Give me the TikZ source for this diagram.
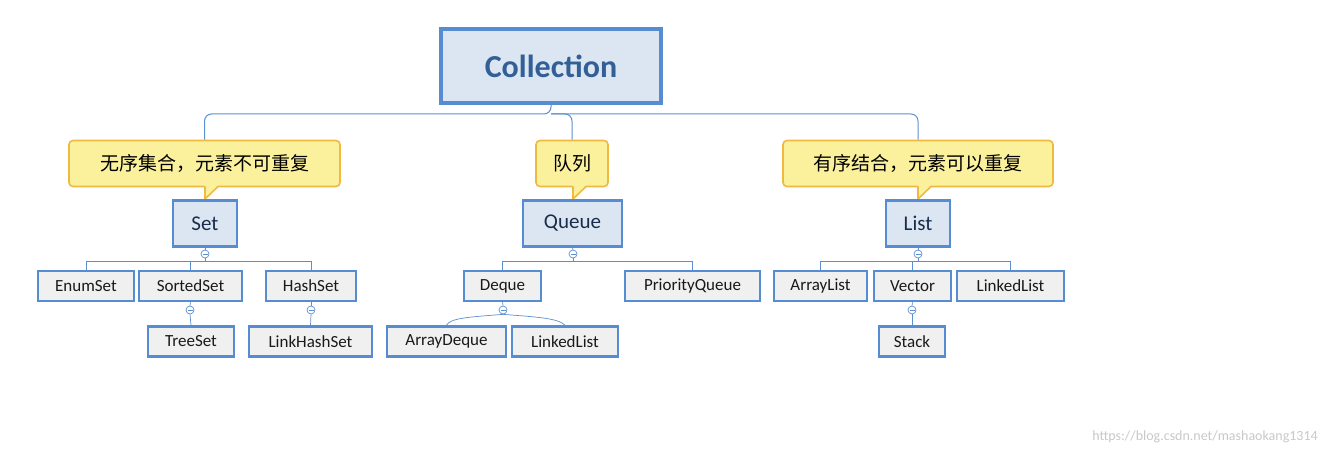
\documentclass[tikz,border=0pt]{standalone}
\usepackage{fontspec}
\setmainfont{Carlito}
\newfontfamily\cjk{Noto Sans CJK SC}
\definecolor{bd}{RGB}{86,140,210}
\definecolor{ln}{RGB}{91,143,208}
\definecolor{gf}{RGB}{240,240,240}
\definecolor{bf}{RGB}{220,230,242}
\definecolor{cb}{RGB}{240,185,66}
\definecolor{cf}{RGB}{251,240,156}
\definecolor{tt}{RGB}{50,95,150}
\definecolor{mt}{RGB}{25,45,75}
\definecolor{wm}{RGB}{200,200,200}
\begin{document}
\begin{tikzpicture}[x=1pt,y=-1pt,
  con/.style={draw=ln,line width=0.7pt},
  sm/.style={draw=bd,line width=2.6pt,fill=gf,minimum height=30,inner sep=0pt,font=\fontsize{17}{17}\selectfont,text=black!90},
  mid/.style={draw=bd,line width=2.2pt,fill=bf,minimum height=46,inner sep=0pt,font=\fontsize{21}{21}\selectfont,text=mt},
  call/.style={draw=cb,line width=1.6pt,fill=cf,rounded corners=4pt,minimum height=46,inner sep=0pt,font=\cjk\fontsize{19}{19}\selectfont},
  mc/.style={circle,draw=ln,line width=0.7pt,fill=white,minimum size=8,inner sep=0pt}]
\useasboundingbox (0,0) rectangle (1327,454);
\node[draw=bd,line width=4pt,fill=bf,minimum width=220,minimum height=74,inner sep=0pt,font=\bfseries\fontsize{32}{32}\selectfont,text=tt] (coll) at (551,66) {Collection};
\coordinate (j) at (551,114);
% callouts
\node[call,minimum width=271] (c1) at (204.5,163.5) {无序集合，元素不可重复};
\node[call,minimum width=72] (c2) at (572,163.5) {队列};
\node[call,minimum width=270] (c3) at (918,163.5) {有序结合，元素可以重复};
\foreach \x in {205,573,918}{
  \fill[cf] (\x-0.5,185) -- (\x+13,185) -- (\x,199) -- cycle;
  \draw[cb,line width=1.6pt] (\x+13,186.5) -- (\x,199) -- (\x,186.5);}
\draw[con,line width=1pt,rounded corners=7pt] (coll.south) -- (j) -| (c1.north);
\draw[con,line width=1pt,rounded corners=7pt] (j) -| (c2.north);
\draw[con,line width=1pt,rounded corners=7pt] (j) -| (c3.north);
% mids
\node[mid,minimum width=64] (set) at (205,223.5) {Set};
\node[mid,minimum width=99] (queue) at (572.5,223.5) {Queue};
\node[mid,minimum width=64] (list) at (918,223.5) {List};
% Set children
\node[sm,minimum width=96] (enum) at (86,286) {EnumSet};
\node[sm,minimum width=103] (sorted) at (190.5,286) {SortedSet};
\node[sm,minimum width=90] (hash) at (311,286) {HashSet};
\node[sm,minimum width=86] (tree) at (191,341.5) {TreeSet};
\node[sm,minimum width=123] (lhs) at (310.5,341.5) {LinkHashSet};
% Queue children
\node[sm,minimum width=77] (deque) at (502.5,286) {Deque};
\node[sm,minimum width=135] (pq) at (692.5,286) {PriorityQueue};
\node[sm,minimum width=119] (ad) at (446.5,341.5) {ArrayDeque};
\node[sm,minimum width=106] (ll1) at (565,341.5) {LinkedList};
% List children
\node[sm,minimum width=93] (al) at (820.5,286) {ArrayList};
\node[sm,minimum width=77] (vec) at (912.5,286) {Vector};
\node[sm,minimum width=107] (ll2) at (1010.5,286) {LinkedList};
\node[sm,minimum width=66] (stack) at (912,341.5) {Stack};
% minus circles
\node[mc] (m1) at (205,254) {};
\node[mc] (m2) at (573,254) {};
\node[mc] (m3) at (918,254) {};
\node[mc] (m4) at (190,310) {};
\node[mc] (m5) at (311,310) {};
\node[mc] (m6) at (503,310) {};
\node[mc] (m7) at (912,310) {};
\foreach \m in {m1,m2,m3,m4,m5,m6,m7}
  \draw[ln,line width=0.7pt] ([xshift=-2.5pt]\m.center) -- ([xshift=2.5pt]\m.center);
\draw[con] (set.south) -- (m1.north);
\draw[con] (queue.south) -- (m2.north);
\draw[con] (list.south) -- (m3.north);
\draw[con] (m1.south) -- ++(0,3) -| (enum.north);
\draw[con] (m1.south) -- ++(0,3) -| (sorted.north);
\draw[con] (m1.south) -- ++(0,3) -| (hash.north);
\draw[con] (m2.south) -- ++(0,3) -| (deque.north);
\draw[con] (m2.south) -- ++(0,3) -| (pq.north);
\draw[con] (m3.south) -- ++(0,3) -| (al.north);
\draw[con] (m3.south) -- ++(0,3) -| (vec.north);
\draw[con] (m3.south) -- ++(0,3) -| (ll2.north);
\draw[con] (sorted.south) -- (m4.north);
\draw[con] (m4.south) -- (tree.north);
\draw[con] (hash.south) -- (m5.north);
\draw[con] (m5.south) -- (lhs.north);
\draw[con] (deque.south) -- (m6.north);
\draw[con] (m6.south) .. controls (470,317) and (450,318) .. (ad.north);
\draw[con] (m6.south) .. controls (536,317) and (558,318) .. (ll1.north);
\draw[con] (vec.south) -- (m7.north);
\draw[con] (m7.south) -- (stack.north);
\node[anchor=east,text=wm,font=\fontsize{14}{14}\selectfont,inner sep=0pt] (wmk) at (1318,437) {https://blog.csdn.net/mashaokang1314};
\end{tikzpicture}
\end{document}
